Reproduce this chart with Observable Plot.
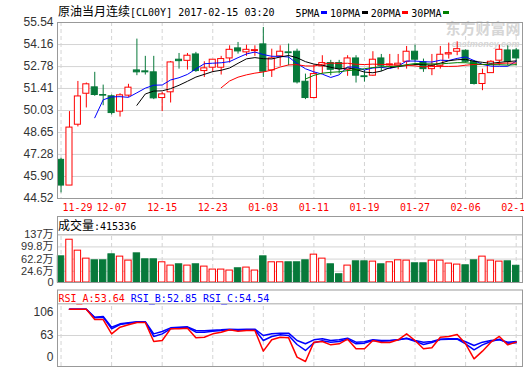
<!DOCTYPE html>
<html><head><meta charset="utf-8">
<script src="https://cdn.jsdelivr.net/npm/d3@7"></script>
<script src="https://cdn.jsdelivr.net/npm/@observablehq/plot@0.6"></script>
<style>
html,body{margin:0;padding:0;background:#fff;}
#wrap{position:relative;width:524px;height:369px;overflow:hidden;background:#fff;}
#wrap svg{position:absolute;left:0;}
.ov{position:absolute;white-space:pre;line-height:14px;color:#000;}
.cjk{font-family:"Noto Sans CJK SC",sans-serif;font-size:12px;}
.mono{font-family:"DejaVu Sans Mono","Liberation Mono",monospace;font-size:10px;}
.sw{display:inline-block;width:6px;height:3px;margin:0 3px 1px 1.5px;vertical-align:middle;}
</style></head><body><div id="wrap"></div>
<script>
// ---------- data ----------
const title = "原油当月连续";
const code = "[CL00Y] 2017-02-15 03:20";
const dates = ["11-29","11-30","12-01","12-02","12-05","12-06","12-07","12-08","12-09","12-12",
  "12-13","12-14","12-15","12-16","12-19","12-20","12-21","12-22","12-23","12-27",
  "12-28","12-29","12-30","01-02","01-03","01-04","01-05","01-06","01-09","01-10",
  "01-11","01-12","01-13","01-16","01-17","01-18","01-19","01-20","01-23","01-24",
  "01-25","01-26","01-27","01-30","01-31","02-01","02-02","02-03","02-06","02-07",
  "02-08","02-09","02-10","02-13","02-14"];
const open = [46.94,45.33,49.14,51.08,51.48,51.00,50.92,49.96,50.96,52.54,
  52.48,52.42,50.81,51.17,53.21,53.14,53.54,52.50,52.71,52.71,
  53.29,53.92,53.67,53.75,54.17,52.54,53.42,53.67,53.71,51.83,
  50.81,52.79,53.00,53.00,52.58,53.29,52.17,52.21,53.29,52.85,
  52.85,53.08,53.71,53.04,52.62,52.83,53.54,53.71,53.77,53.08,
  51.69,52.37,53.15,53.79,53.79];
const high = [47.04,49.96,51.85,51.75,52.42,51.62,51.00,51.08,51.67,54.50,
  53.42,53.42,51.17,53.10,53.60,53.60,53.67,53.08,53.21,53.42,
  54.08,54.29,54.12,54.08,55.23,53.87,54.08,54.19,53.87,52.31,
  52.87,53.46,53.17,53.17,53.46,53.46,52.54,53.71,53.54,53.54,
  53.54,54.04,54.12,53.25,53.54,54.04,54.25,54.33,53.83,53.15,
  52.62,53.15,54.12,54.08,53.92];
const low = [44.87,45.33,49.00,50.19,50.92,50.33,49.75,49.62,50.85,52.21,
  52.25,50.71,49.96,50.50,52.62,52.56,52.42,52.10,52.42,52.25,
  53.00,53.56,53.42,53.42,52.10,52.10,52.79,52.83,51.69,50.71,
  50.75,52.31,52.21,52.31,52.17,51.75,51.81,52.17,52.46,52.79,
  52.58,52.62,53.00,52.42,52.21,52.62,53.25,53.46,53.00,51.62,
  51.27,52.37,52.83,52.83,52.83];
const close = [45.33,48.96,50.91,51.67,51.00,50.96,49.87,50.98,51.46,52.42,
  52.42,50.79,51.04,53.04,53.12,53.46,52.50,52.67,53.21,53.25,
  53.83,53.73,53.83,53.81,52.46,53.29,53.71,53.62,51.79,50.81,
  52.31,53.00,52.58,52.62,53.29,52.21,52.12,53.21,52.83,52.92,
  52.96,53.71,53.21,52.62,52.83,53.52,53.62,53.87,53.08,51.69,
  52.31,53.08,53.83,53.08,53.29];
// volume in 万 (10k)
const volume = [70.7,122.0,88.2,63.6,58.4,58.4,76.9,69.8,57.5,79.9,
  61.5,61.5,52.3,42.1,46.1,42.1,46.1,39.0,29.8,29.8,
  26.8,33.8,36.0,26.8,70.7,52.3,52.3,52.3,52.3,58.4,
  75.9,63.6,46.1,15.4,42.1,55.3,55.3,54.4,46.1,52.3,
  58.4,57.5,49.2,49.2,57.5,57.5,48.3,45.2,43.0,58.4,
  69.8,57.5,54.4,55.3,41.5336];
const lastVolume = 415336;
const rsiA = [null,100,100,100,85.5,85.5,65.3,74.7,78.0,81.3,
  81.3,54.5,55.9,72.4,72.4,73.3,59.7,60.6,65.3,67.7,
  71.0,69.1,70.0,70.0,40.9,56.9,60.6,59.7,32.5,26.4,
  53.6,54.5,49.8,51.3,57.8,44.2,44.2,55.9,53.1,53.1,
  56.9,65.3,55.9,44.2,45.6,60.6,61.6,64.4,51.3,30.1,
  40.9,53.6,61.6,49.8,53.64];
const rsiB = [null,100,100,100,87.9,88.8,72.4,78.5,80.4,81.8,
  81.8,61.6,65.3,72.4,73.8,74.3,67.7,67.7,69.1,70.0,
  71.0,70.5,71.0,71.0,55.9,61.6,63.9,63.0,50.3,41.9,
  52.7,55.5,53.6,54.5,57.8,51.3,52.2,55.9,55.0,55.5,
  56.9,58.8,55.0,50.3,53.1,57.4,57.8,57.8,51.3,42.8,
  49.8,54.5,57.8,52.2,52.85];
const rsiC = [null,100,100,100,88.8,89.8,74.7,79.4,80.8,82.3,
  82.3,65.3,68.6,73.8,74.7,75.2,70.0,69.6,70.5,71.0,
  71.9,71.4,71.9,71.9,63.0,65.3,66.3,66.3,55.9,51.3,
  56.9,58.3,55.9,56.9,59.2,53.6,54.1,56.9,55.9,55.9,
  56.9,59.2,55.9,53.6,54.5,57.8,58.3,58.3,54.1,48.9,
  53.6,55.9,56.9,53.6,54.54];
const priceTicks = [44.52,45.90,47.28,48.65,50.03,51.41,52.78,54.16,55.54];
const volTicks = [-10.1,24.6,62.2,99.8,137];
const volTickLabels = ["0","24.6万","62.2万","99.8万","137万"];
const rsiTicks = [32,63,95.4];
const rsiTickLabels = ["0","63","106"];
const maPeriods = [5,10,20,30];
const maNames = ["5PMA","10PMA","20PMA","30PMA"];
const maColors = ["#0000ff","#000000","#ff0000","#008000"];

// ---------- build ----------
const RED="#ff0000", GREEN="#07793a", GRID="#d4d4d4", FRAME="#999999", BLUE="#0000ff";
const N = dates.length;
const rows = dates.map((d,i)=>({i, date:d, open:open[i], high:high[i], low:low[i], close:close[i],
  vol:volume[i], up: close[i] >= open[i], a:rsiA[i], b:rsiB[i], c:rsiC[i]}));
const gridIdx = d3.range(0, N, 6);
const xDomain = [-0.42, 54.75];
const W = 524, ML = 57, MR = 2, HB = 0.36;
const sans = '"Liberation Sans",Arial,"Noto Sans CJK SC",sans-serif';
const mono = '"DejaVu Sans Mono","Liberation Mono",monospace';
const baseStyle = {background:"transparent", fontFamily: sans, fontSize:"12px", color:"#333", overflow:"visible"};
const wrap = document.getElementById("wrap");

const main = Plot.plot({
  width: W, height: 214, marginLeft: ML, marginRight: MR, marginTop: 22, marginBottom: 16,
  style: baseStyle,
  x: {domain: xDomain, axis: null},
  y: {domain: [44.52, 55.54], ticks: priceTicks, tickFormat: d => d.toFixed(2), tickSize: 0, tickPadding: 4, label: null},
  marks: [
    Plot.text(["东方财富网"], {frameAnchor:"top-right", dx:-2, dy:1, textAnchor:"end", lineAnchor:"top",
      fontSize:15, fontWeight:"bold", fill:"#d6d6d6", fontFamily:'"Noto Sans CJK SC",sans-serif'}),
    Plot.text(["eastmoney.com"], {frameAnchor:"top-right", dx:-3, dy:18, textAnchor:"end", lineAnchor:"top",
      fontSize:9, fontWeight:"bold", fontStyle:"italic", fill:"#d6d6d6", fontFamily: sans}),
    Plot.ruleY(priceTicks.slice(1,-1), {stroke: GRID}),
    Plot.ruleX(gridIdx, {stroke: GRID, strokeDasharray: "4,3"}),
    Plot.ruleX(rows, {x:"i", y1:"low", y2:"high", stroke: d => d.up ? RED : GREEN}),
    Plot.rect(rows, {x1: d => d.i - HB, x2: d => d.i + HB, y1:"open", y2:"close",
      fill: d => d.up ? "white" : GREEN, stroke: d => d.up ? RED : GREEN}),
    ...maPeriods.map((k, j) => Plot.lineY(rows, Plot.windowY({k, anchor:"end", reduce:"mean", strict:true},
      {x:"i", y:"close", stroke: maColors[j], strokeWidth: 1}))),
    Plot.text(gridIdx.slice(0,1), {x: d => d, text: d => dates[d], frameAnchor:"bottom", dy: 9.5, dx: 1.5,
      textAnchor:"start", lineAnchor:"middle", fill: RED, fontFamily: mono, fontSize: 10}),
    Plot.text(gridIdx.slice(1), {x: d => d, text: d => dates[d], frameAnchor:"bottom", dy: 9.5,
      textAnchor:"middle", lineAnchor:"middle", fill: RED, fontFamily: mono, fontSize: 10}),
    Plot.frame({stroke: FRAME})
  ]
});
main.style.top = "0px";
wrap.appendChild(main);

const volBase = volTicks[0], volTop = 193.7;
const vol = Plot.plot({
  width: W, height: 75, marginLeft: ML, marginRight: MR, marginTop: 6, marginBottom: 3,
  style: {...baseStyle, fontSize: "11px"},
  x: {domain: xDomain, axis: null},
  y: {domain: [volBase, volTop], ticks: volTicks, tickFormat: d => volTickLabels[volTicks.indexOf(d)], tickSize: 0, tickPadding: 4, label: null},
  marks: [
    Plot.ruleY(volTicks.slice(1,-1), {stroke: GRID}),
    Plot.ruleY(volTicks.slice(-1), {stroke: "#a8a8a8"}),
    Plot.ruleX(gridIdx, {y1: () => volBase, y2: () => volTicks[volTicks.length-1], stroke: GRID, strokeDasharray: "4,3"}),
    Plot.rect(rows, {x1: d => d.i - 0.38, x2: d => d.i + 0.38, y1: () => volBase, y2: "vol",
      fill: d => d.up ? "white" : GREEN, stroke: d => d.up ? RED : GREEN}),
    Plot.frame({stroke: FRAME})
  ]
});
vol.style.top = "210px";
wrap.appendChild(vol);

const rsiBottom = 19.3, rsiTop = 127.1, rsiSep = 107.6;
const rsi = Plot.plot({
  width: W, height: 85, marginLeft: ML, marginRight: MR, marginTop: 5.5, marginBottom: 3,
  style: baseStyle,
  x: {domain: xDomain, axis: null},
  y: {domain: [rsiBottom, rsiTop], ticks: rsiTicks, tickFormat: d => rsiTickLabels[rsiTicks.indexOf(d)], tickSize: 0, tickPadding: 4, label: null},
  marks: [
    Plot.ruleY([63], {stroke: GRID}),
    Plot.ruleY([rsiSep], {stroke: "#a8a8a8"}),
    Plot.ruleX(gridIdx, {y1: () => rsiBottom, y2: () => rsiSep, stroke: GRID, strokeDasharray: "4,3"}),
    Plot.lineY(rows, {x:"i", y:"c", stroke: BLUE}),
    Plot.lineY(rows, {x:"i", y:"b", stroke: BLUE}),
    Plot.lineY(rows, {x:"i", y:"a", stroke: RED}),
    Plot.frame({stroke: FRAME})
  ]
});
rsi.style.top = "284px";
wrap.appendChild(rsi);

// ---------- header overlays ----------
function ov(html, left, top){ const d=document.createElement("div"); d.className="ov"; d.style.left=left+"px"; d.style.top=top+"px"; d.innerHTML=html; wrap.appendChild(d); return d; }
ov(`<span class="cjk">${title}</span><span class="mono">${code}</span>`, 58, 4);
ov(maNames.map((n,j)=>`<span class="mono">${n}</span><span class="sw" style="background:${maColors[j]}"></span>`).join(""), 295.5, 4.5);
ov(`<span class="cjk">成交量</span><span class="mono">:${lastVolume}</span>`, 58, 218);
const f = v => v.toFixed(2);
ov(`<span class="mono" style="color:${RED}">RSI_A:${f(rsiA[N-1])}</span><span class="mono" style="color:${BLUE}"> RSI_B:${f(rsiB[N-1])} RSI_C:${f(rsiC[N-1])}</span>`, 58.5, 289.5);
</script></body></html>
